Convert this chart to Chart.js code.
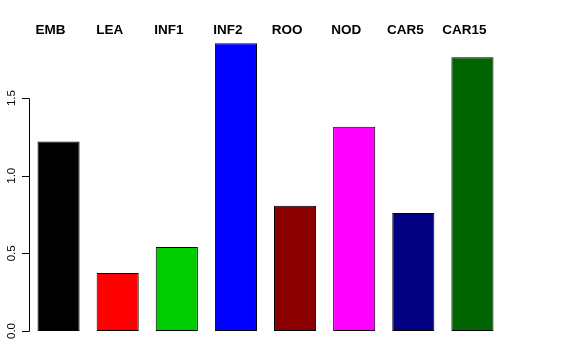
<!DOCTYPE html>
<html>
<head>
<meta charset="utf-8">
<script src="https://cdn.jsdelivr.net/npm/chart.js@4/dist/chart.umd.min.js"></script>
<style>
  html, body { margin: 0; padding: 0; background: #fff; }
  #wrap { width: 576px; height: 360px; }
</style>
</head>
<body>
<div id="wrap"><canvas id="chart"></canvas></div>
<script>
// tissues and values
var tissues = ["EMB", "LEA", "INF1", "INF2", "ROO", "NOD", "CAR5", "CAR15"];
var values = [1.22, 0.373, 0.541, 1.854, 0.806, 1.315, 0.76, 1.764];
var barColors = ["#000000", "#FF0000", "#00CD00", "#0000FF", "#8B0000", "#FF00FF", "#000080", "#006400"];
var yTicks = [0, 0.5, 1, 1.5];
var yTickLabels = ["0.0", "0.5", "1.0", "1.5"];

// draws the R style axis (line only between first and last tick, rotated labels)
// and the bold names over the bars
const rAxis = {
    id: 'rAxis',
    afterDraw(chart) {
        const ctx = chart.ctx;
        const y = chart.scales.y;
        const x = chart.scales.x;
        const axisX = chart.chartArea.left;
        ctx.save();
        ctx.strokeStyle = '#000';
        ctx.lineWidth = 1;
        ctx.beginPath();
        ctx.moveTo(axisX + 0.5, Math.round(y.getPixelForValue(yTicks[0])) + 0.5);
        ctx.lineTo(axisX + 0.5, Math.round(y.getPixelForValue(yTicks[yTicks.length - 1])) + 0.5);
        for (let i = 0; i < yTicks.length; i++) {
            const py = Math.round(y.getPixelForValue(yTicks[i])) + 0.5;
            ctx.moveTo(axisX + 0.5, py);
            ctx.lineTo(axisX - 7, py);
        }
        ctx.stroke();

        ctx.fillStyle = '#000';
        ctx.font = '11.5px "Liberation Sans", Arial, sans-serif';
        ctx.textAlign = 'center';
        ctx.textBaseline = 'middle';
        for (let i = 0; i < yTicks.length; i++) {
            const py = y.getPixelForValue(yTicks[i]);
            ctx.save();
            ctx.translate(12, py);
            ctx.rotate(-Math.PI / 2);
            ctx.fillText(yTickLabels[i], 0, 0);
            ctx.restore();
        }

        ctx.font = 'bold 13.5px "Liberation Sans", Arial, sans-serif';
        for (let i = 0; i < tissues.length; i++) {
            const px = x.getPixelForValue(i);
            ctx.fillText(tissues[i], px - 8, 30);
        }
        ctx.restore();
    }
};

const ctx = document.getElementById('chart').getContext('2d');
const chart = new Chart(ctx, {
    type: 'bar',
    data: {
        labels: tissues,
        datasets: [{
            data: values,
            backgroundColor: barColors,
            borderColor: '#000',
            borderWidth: 1,
            borderSkipped: false,
            barPercentage: 0.712,
            categoryPercentage: 1.0
        }]
    },
    options: {
        responsive: true,
        maintainAspectRatio: false,
        animation: false,
        layout: { padding: { left: 29, right: 74, top: 43, bottom: 29 } },
        plugins: {
            legend: { display: false },
            tooltip: { enabled: false }
        },
        scales: {
            x: { display: false },
            y: { display: false, min: 0, max: 1.855 }
        }
    },
    plugins: [rAxis]
});
</script>
</body>
</html>
